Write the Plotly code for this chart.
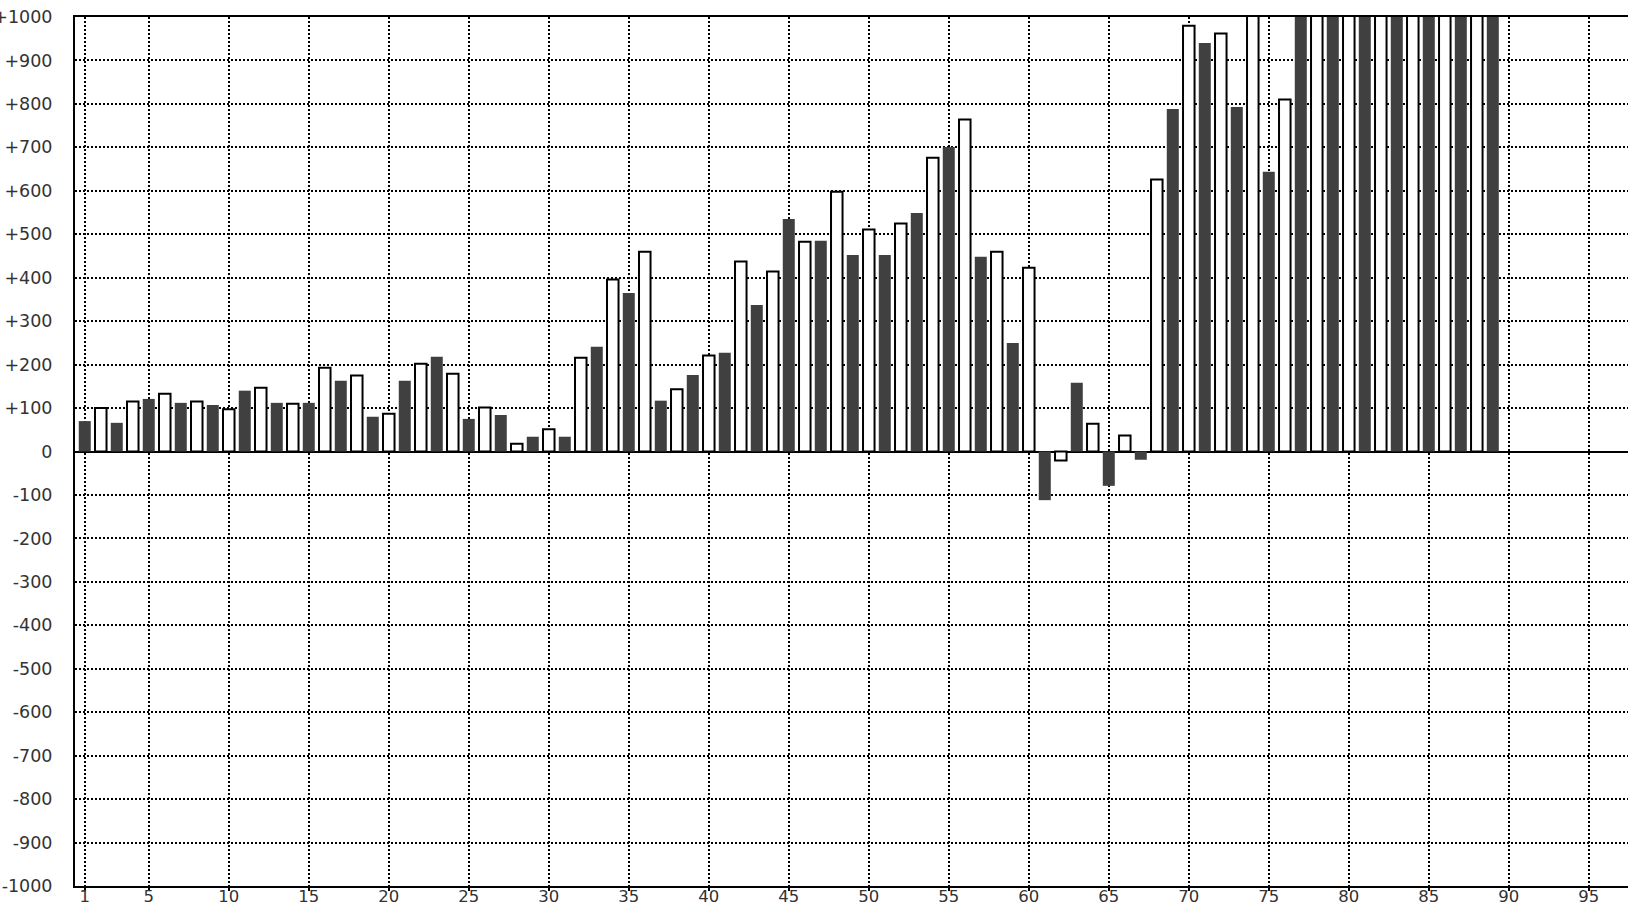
import plotly.graph_objects as go

# Day index (categories)
days = list(range(1, 90))

# Values; bars above +1000 are clipped by the axis range
values = [
    70, 100, 66, 115, 121, 133, 112, 115, 107, 97,
    140, 147, 112, 110, 112, 193, 163, 175, 80, 87,
    163, 202, 218, 179, 75, 101, 84, 18, 34, 51,
    34, 216, 241, 396, 365, 460, 117, 143, 176, 221,
    227, 437, 337, 414, 535, 483, 485, 598, 452, 511,
    452, 525, 549, 676, 701, 764, 448, 460, 250, 423,
    -112, -21, 158, 64, -79, 37, -19, 626, 788, 980,
    940, 962, 793, 1150, 644, 810, 1200, 1250, 1300, 1280,
    1350, 1320, 1400, 1380, 1450, 1420, 1500, 1480, 1550,
]

x_ticks = [1, 5, 10, 15, 20, 25, 30, 35, 40, 45, 50, 55, 60, 65, 70, 75, 80, 85, 90, 95]
y_ticks = list(range(1000, -1001, -100))
y_labels = [("+%d" % v if v > 0 else ("0" if v == 0 else "-%d" % -v)) for v in y_ticks]

dark_x = [d for d in days if d % 2 == 1]
dark_y = [v for d, v in zip(days, values) if d % 2 == 1]
light_x = [d for d in days if d % 2 == 0]
light_y = [v for d, v in zip(days, values) if d % 2 == 0]

fig = go.Figure()
fig.add_trace(go.Bar(x=dark_x, y=dark_y, width=0.75,
                     marker=dict(color="#404040", line=dict(width=0)),
                     showlegend=False, hoverinfo="x+y"))
fig.add_trace(go.Bar(x=light_x, y=light_y, width=0.72,
                     marker=dict(color="white", line=dict(color="black", width=2)),
                     showlegend=False, hoverinfo="x+y"))

fig.update_layout(
    width=1628, height=906,
    margin=dict(l=75, r=0, t=17, b=20, autoexpand=False),
    paper_bgcolor="white", plot_bgcolor="white",
    barmode="overlay",
    font=dict(family="DejaVu Sans", size=17.5, color="#333"),
)
fig.update_xaxes(
    range=[0.39, 97.45], tickmode="array", tickvals=x_ticks,
    tickfont=dict(size=16.5),
    showgrid=True, gridcolor="black", gridwidth=2, griddash="2px,2px",
    showline=True, linecolor="black", linewidth=2, mirror=True,
    ticks="outside", ticklen=3, tickwidth=2, tickcolor="black",
    ticklabelstandoff=-9, ticklabeloverflow="allow",
    zeroline=False, automargin=False,
)
fig.update_yaxes(
    range=[-1000, 1000], tickmode="array", tickvals=y_ticks, ticktext=y_labels,
    showgrid=True, gridcolor="black", gridwidth=2, griddash="2px,2px",
    showline=True, linecolor="black", linewidth=2,
    zeroline=True, zerolinecolor="black", zerolinewidth=2,
    ticks="", ticklabelstandoff=17, ticklabeloverflow="allow", automargin=False,
)

fig.write_html("out.html", config={"displayModeBar": False},
               post_script="document.body.style.margin='0';")
